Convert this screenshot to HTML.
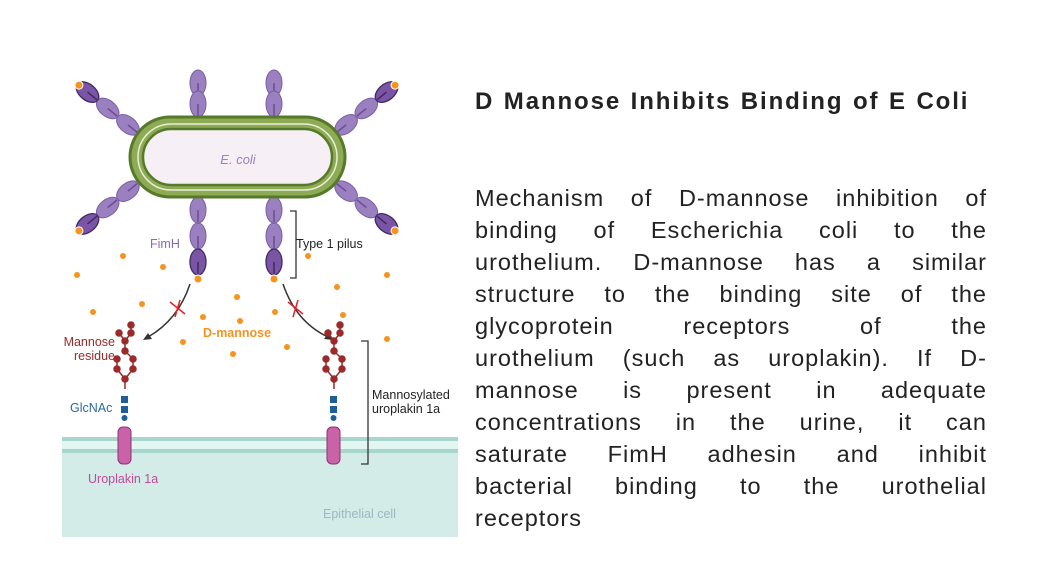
<!DOCTYPE html>
<html><head><meta charset="utf-8"><style>
body{margin:0;width:1050px;height:588px;background:#fff;position:relative;overflow:hidden;font-family:"Liberation Sans",sans-serif}
#t{position:absolute;left:475px;top:88px;font-size:24px;font-weight:bold;color:#222;letter-spacing:1.9px;word-spacing:1px}
#p{position:absolute;left:475px;top:182px;width:512px;font-size:23.5px;line-height:32px;color:#222;letter-spacing:1px}
#p div{white-space:nowrap;display:flex;justify-content:space-between}
#p div.l{justify-content:flex-start}
svg{position:absolute;left:0;top:0}
</style></head><body>
<svg width="470" height="588" viewBox="0 0 470 588" font-family="Liberation Sans, sans-serif">
<defs>
<g id="el"><ellipse cx="0" cy="0" rx="8" ry="13" fill="#9b80c0" stroke="#7a5ea8" stroke-width="1"/><line x1="0" y1="0" x2="0" y2="12" stroke="#6b4c98" stroke-width="1.5"/></g>
<g id="eld"><ellipse cx="0" cy="0" rx="8" ry="13" fill="#7a55a5" stroke="#3f2a60" stroke-width="1.3"/><line x1="0" y1="0" x2="0" y2="12" stroke="#3f2a60" stroke-width="1.5"/></g>
<g id="tree" fill="#9b2a2a" stroke="#9b2a2a" stroke-width="1.5">
<path d="M0 0 V-10 M0 -10 L-8 -20 L-8 -30 M0 -10 L8 -20 L8 -30 M8 -30 L0 -38 V-48 M0 -48 L-6 -56 M0 -48 L6 -56 L6 -62" fill="none"/>
<circle cx="0" cy="-10" r="3"/><circle cx="-8" cy="-20" r="3"/><circle cx="-8" cy="-30" r="3"/><circle cx="8" cy="-20" r="3"/><circle cx="8" cy="-30" r="3"/><circle cx="0" cy="-38" r="3"/><circle cx="0" cy="-48" r="3"/><circle cx="-6" cy="-56" r="3"/><circle cx="6" cy="-56" r="3"/><circle cx="6" cy="-64" r="3"/>
</g>
</defs>
<rect x="62" y="437" width="396" height="100" fill="#d3ece8"/>
<rect x="62" y="437" width="396" height="4" fill="#a9d6cc"/>
<rect x="62" y="449" width="396" height="4" fill="#a9d6cc"/>
<rect x="62" y="441" width="396" height="8" fill="#e2f6f2"/>
<use href="#el" x="198" y="83"/><use href="#el" x="198" y="104"/>
<use href="#el" x="274" y="83"/><use href="#el" x="274" y="104"/>
<g transform="translate(198,197)"><use href="#el" y="13"/><use href="#el" y="39"/><use href="#eld" y="65"/><circle cx="0" cy="82" r="4" fill="#f7931e" stroke="#fff"/></g>
<g transform="translate(274,197)"><use href="#el" y="13"/><use href="#el" y="39"/><use href="#eld" y="65"/><circle cx="0" cy="82" r="4" fill="#f7931e" stroke="#fff"/></g>
<g transform="translate(138,133) rotate(-51)"><use href="#el" y="-13"/><use href="#el" y="-39"/><use href="#eld" y="-65"/><circle cx="0" cy="-76" r="4" fill="#f7931e" stroke="#fff"/></g>
<g transform="translate(336,133) rotate(51)"><use href="#el" y="-13"/><use href="#el" y="-39"/><use href="#eld" y="-65"/><circle cx="0" cy="-76" r="4" fill="#f7931e" stroke="#fff"/></g>
<g transform="translate(138,183) rotate(-129)"><use href="#el" y="-13"/><use href="#el" y="-39"/><use href="#eld" y="-65"/><circle cx="0" cy="-76" r="4" fill="#f7931e" stroke="#fff"/></g>
<g transform="translate(336,183) rotate(129)"><use href="#el" y="-13"/><use href="#el" y="-39"/><use href="#eld" y="-65"/><circle cx="0" cy="-76" r="4" fill="#f7931e" stroke="#fff"/></g>
<rect x="130" y="117" width="215" height="80" rx="40" fill="#8faa55" stroke="#557a2a" stroke-width="3"/>
<rect x="138" y="124" width="199" height="66" rx="33" fill="none" stroke="#e6efd5" stroke-width="1.5"/>
<rect x="143" y="129" width="189" height="56" rx="28" fill="#f6f0f6" stroke="#557a2a" stroke-width="2.5"/>
<text x="238" y="164" font-size="13" font-style="italic" fill="#9b80c0" text-anchor="middle">E. coli</text>
<text x="150" y="248" font-size="12.5" fill="#8a6ab8">FimH</text>
<path d="M290 211 h6 v67 h-6" fill="none" stroke="#333" stroke-width="1.3"/>
<text x="296" y="248" font-size="12.5" fill="#222">Type 1 pilus</text>
<g fill="#f7931e">
<circle cx="123" cy="256" r="3"/><circle cx="163" cy="267" r="3"/><circle cx="77" cy="275" r="3"/><circle cx="308" cy="256" r="3"/><circle cx="387" cy="275" r="3"/><circle cx="337" cy="287" r="3"/><circle cx="237" cy="297" r="3"/><circle cx="93" cy="312" r="3"/><circle cx="142" cy="304" r="3"/><circle cx="203" cy="317" r="3"/><circle cx="240" cy="321" r="3"/><circle cx="275" cy="312" r="3"/><circle cx="343" cy="315" r="3"/><circle cx="183" cy="342" r="3"/><circle cx="233" cy="354" r="3"/><circle cx="287" cy="347" r="3"/><circle cx="387" cy="339" r="3"/>
</g>
<text x="203" y="337" font-size="12.5" font-weight="bold" fill="#f7931e">D-mannose</text>
<path d="M190 284 Q178 320 148 337" fill="none" stroke="#333" stroke-width="1.5"/>
<path d="M143 340 l9 -1 l-4 -6 z" fill="#333"/>
<path d="M283 284 Q296 322 328 337" fill="none" stroke="#333" stroke-width="1.5"/>
<path d="M333 340 l-5 -7 l-4 6 z" fill="#333"/>
<path d="M170 302 l15 12 M180 300 l-5 17" stroke="#e8222a" stroke-width="1.5"/>
<path d="M288 302 l15 12 M298 300 l-5 17" stroke="#e8222a" stroke-width="1.5"/>
<use href="#tree" x="125" y="389"/>
<use href="#tree" x="334" y="389"/>
<g fill="#1f5f95"><rect x="121" y="396" width="7" height="7"/><rect x="121" y="406" width="7" height="7"/><circle cx="124.5" cy="418" r="3"/><rect x="330" y="396" width="7" height="7"/><rect x="330" y="406" width="7" height="7"/><circle cx="333.5" cy="418" r="3"/></g>
<rect x="118" y="427" width="13" height="37" rx="5" fill="#c962a8" stroke="#8a3472"/>
<rect x="327" y="427" width="13" height="37" rx="5" fill="#c962a8" stroke="#8a3472"/>
<text x="115" y="346" font-size="12.5" fill="#9b2a2a" text-anchor="end">Mannose</text>
<text x="115" y="360" font-size="12.5" fill="#9b2a2a" text-anchor="end">residue</text>
<text x="70" y="412" font-size="12.5" fill="#2a6aa5">GlcNAc</text>
<path d="M361 341 h7 v123 h-7" fill="none" stroke="#333" stroke-width="1.3"/>
<text x="372" y="399" font-size="12.5" fill="#222">Mannosylated</text>
<text x="372" y="413" font-size="12.5" fill="#222">uroplakin 1a</text>
<text x="88" y="483" font-size="12.5" fill="#c04a9a">Uroplakin 1a</text>
<text x="323" y="518" font-size="12.5" fill="#9ab8c0">Epithelial cell</text>
</svg>
<div id="t">D Mannose Inhibits Binding of E Coli</div>
<div id="p">
<div><span>Mechanism</span><span>of</span><span>D-mannose</span><span>inhibition</span><span>of</span></div>
<div><span>binding</span><span>of</span><span>Escherichia</span><span>coli</span><span>to</span><span>the</span></div>
<div><span>urothelium.</span><span>D-mannose</span><span>has</span><span>a</span><span>similar</span></div>
<div><span>structure</span><span>to</span><span>the</span><span>binding</span><span>site</span><span>of</span><span>the</span></div>
<div><span>glycoprotein</span><span>receptors</span><span>of</span><span>the</span></div>
<div><span>urothelium</span><span>(such</span><span>as</span><span>uroplakin).</span><span>If</span><span>D-</span></div>
<div><span>mannose</span><span>is</span><span>present</span><span>in</span><span>adequate</span></div>
<div><span>concentrations</span><span>in</span><span>the</span><span>urine,</span><span>it</span><span>can</span></div>
<div><span>saturate</span><span>FimH</span><span>adhesin</span><span>and</span><span>inhibit</span></div>
<div><span>bacterial</span><span>binding</span><span>to</span><span>the</span><span>urothelial</span></div>
<div class="l"><span>receptors</span></div>
</div>
</body></html>
